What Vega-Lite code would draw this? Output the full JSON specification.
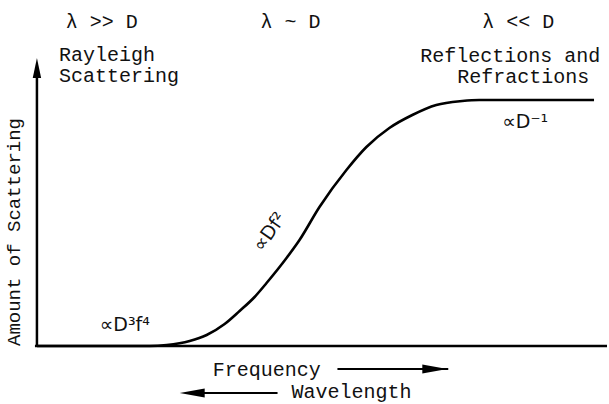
{
  "$schema": "https://vega.github.io/schema/vega-lite/v6.json",
  "width": 609,
  "height": 404,
  "padding": 0,
  "autosize": {"type": "fit", "contains": "padding"},
  "background": "white",
  "view": {"stroke": null},
  "datasets": {
    "curve": [
      {"f": 0, "s": 0}, {"f": 63, "s": 0}, {"f": 113, "s": 0}, {"f": 130, "s": 1},
      {"f": 153, "s": 5}, {"f": 170, "s": 11}, {"f": 188, "s": 22}, {"f": 203, "s": 35},
      {"f": 218, "s": 49}, {"f": 230, "s": 63}, {"f": 250, "s": 88}, {"f": 263, "s": 106},
      {"f": 283, "s": 139}, {"f": 310, "s": 176}, {"f": 330, "s": 199}, {"f": 353, "s": 218},
      {"f": 376, "s": 231}, {"f": 400, "s": 241}, {"f": 426, "s": 245}, {"f": 443, "s": 246},
      {"f": 558, "s": 246}
    ],
    "axes": [
      {"x": -2, "x2": 571, "y": 0, "y2": 0},
      {"x": 0, "x2": 0, "y": 0, "y2": 272}
    ],
    "shafts": [
      {"x": 301, "x2": 412, "y": -23, "y2": -23},
      {"x": 165, "x2": 241, "y": -47, "y2": -47}
    ],
    "leftText": [
      {"x": 22, "y": 285, "t": "Rayleigh"},
      {"x": 22, "y": 264, "t": "Scattering"},
      {"x": 384, "y": 284, "t": "Reflections and"},
      {"x": 421, "y": 263, "t": "Refractions"},
      {"x": 176, "y": -30, "t": "Frequency"},
      {"x": 255, "y": -52, "t": "Wavelength"}
    ],
    "topText": [
      {"x": 65, "y": 318, "t": "λ >> D"},
      {"x": 254, "y": 318, "t": "λ ~ D"},
      {"x": 482, "y": 318, "t": "λ << D"}
    ],
    "math": [
      {"x": 88, "y": 21, "t": "∝D³f⁴"},
      {"x": 489, "y": 224, "t": "∝D⁻¹"}
    ]
  },
  "layer": [
    {
      "data": {"name": "axes"},
      "mark": {"type": "rule", "color": "black", "strokeWidth": 2.5},
      "encoding": {
        "x": {"field": "x", "type": "quantitative", "scale": {"domain": [-37, 572], "nice": false, "zero": false}, "axis": null},
        "x2": {"field": "x2"},
        "y": {"field": "y", "type": "quantitative", "scale": {"domain": [-58, 346], "nice": false, "zero": false}, "axis": null},
        "y2": {"field": "y2"}
      }
    },
    {
      "data": {"name": "shafts"},
      "mark": {"type": "rule", "color": "black", "strokeWidth": 1.8},
      "encoding": {
        "x": {"field": "x", "type": "quantitative"},
        "x2": {"field": "x2"},
        "y": {"field": "y", "type": "quantitative"},
        "y2": {"field": "y2"}
      }
    },
    {
      "data": {"values": [{"x": 0, "y": 278}]},
      "mark": {"type": "point", "shape": "M-0.42,1 L0,-1 L0.42,1 Z", "filled": true, "color": "black", "opacity": 1, "size": 400},
      "encoding": {"x": {"field": "x", "type": "quantitative"}, "y": {"field": "y", "type": "quantitative"}}
    },
    {
      "data": {"values": [{"x": 398.5, "y": -23}]},
      "mark": {"type": "point", "shape": "M-1,-0.36 L1,0 L-1,0.36 Z", "filled": true, "color": "black", "opacity": 1, "size": 625},
      "encoding": {"x": {"field": "x", "type": "quantitative"}, "y": {"field": "y", "type": "quantitative"}}
    },
    {
      "data": {"values": [{"x": 155.5, "y": -47}]},
      "mark": {"type": "point", "shape": "M1,-0.36 L-1,0 L1,0.36 Z", "filled": true, "color": "black", "opacity": 1, "size": 625},
      "encoding": {"x": {"field": "x", "type": "quantitative"}, "y": {"field": "y", "type": "quantitative"}}
    },
    {
      "data": {"name": "curve"},
      "mark": {"type": "line", "color": "black", "strokeWidth": 2.6, "interpolate": "monotone"},
      "encoding": {"x": {"field": "f", "type": "quantitative"}, "y": {"field": "s", "type": "quantitative"}}
    },
    {
      "data": {"name": "leftText"},
      "mark": {"type": "text", "align": "left", "baseline": "alphabetic", "font": "Liberation Mono", "fontSize": 20, "color": "#111"},
      "encoding": {"x": {"field": "x", "type": "quantitative"}, "y": {"field": "y", "type": "quantitative"}, "text": {"field": "t"}}
    },
    {
      "data": {"name": "topText"},
      "mark": {"type": "text", "align": "center", "baseline": "alphabetic", "font": "Liberation Mono", "fontSize": 20, "color": "#111"},
      "encoding": {"x": {"field": "x", "type": "quantitative"}, "y": {"field": "y", "type": "quantitative"}, "text": {"field": "t"}}
    },
    {
      "data": {"values": [{"x": -23, "y": 114, "t": "Amount of Scattering"}]},
      "mark": {"type": "text", "align": "center", "baseline": "middle", "angle": 270, "font": "Liberation Mono", "fontSize": 19, "color": "#111"},
      "encoding": {"x": {"field": "x", "type": "quantitative"}, "y": {"field": "y", "type": "quantitative"}, "text": {"field": "t"}}
    },
    {
      "data": {"name": "math"},
      "mark": {"type": "text", "align": "center", "baseline": "middle", "font": "DejaVu Sans", "fontSize": 19, "color": "#111"},
      "encoding": {"x": {"field": "x", "type": "quantitative"}, "y": {"field": "y", "type": "quantitative"}, "text": {"field": "t"}}
    },
    {
      "data": {"values": [{"x": 233, "y": 114, "t": "∝Df²"}]},
      "mark": {"type": "text", "align": "center", "baseline": "middle", "angle": 305, "font": "DejaVu Sans", "fontSize": 19, "color": "#111"},
      "encoding": {"x": {"field": "x", "type": "quantitative"}, "y": {"field": "y", "type": "quantitative"}, "text": {"field": "t"}}
    }
  ]
}
